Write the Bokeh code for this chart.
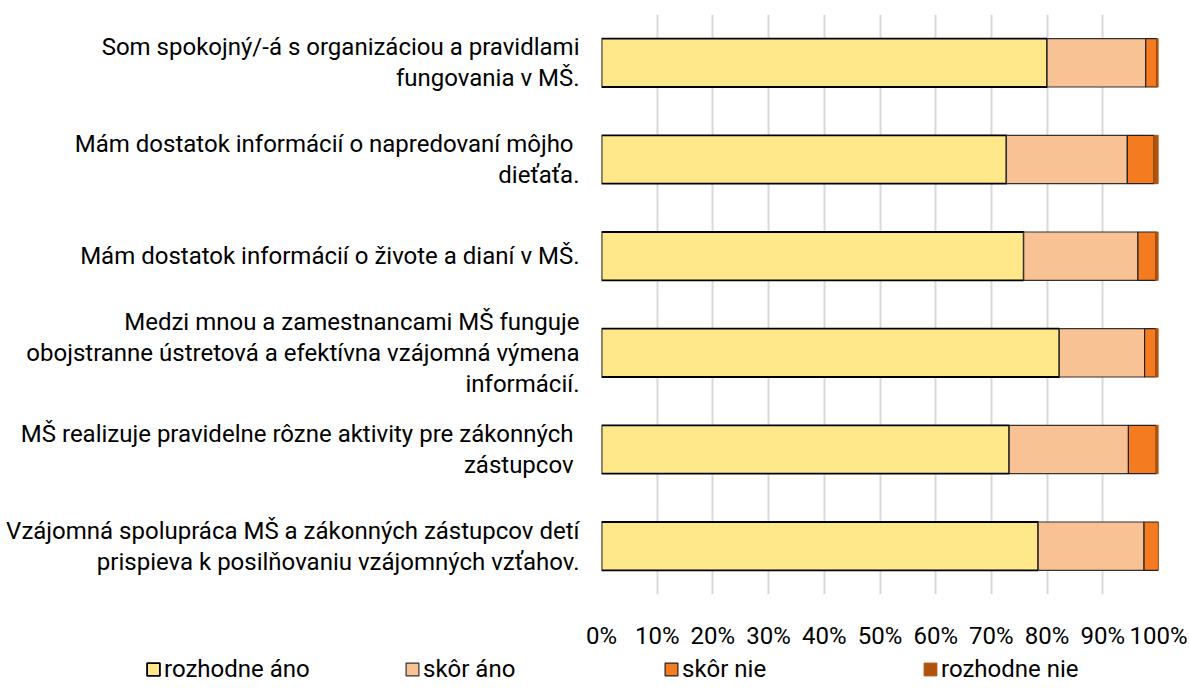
from bokeh.plotting import figure
from bokeh.models import Range1d, FactorRange, FixedTicker, ColumnDataSource, Legend
from bokeh.embed import file_html
from bokeh.resources import INLINE

categories = [
    "Som spokojný/-á s organizáciou a pravidlami\nfungovania v MŠ.",
    "Mám dostatok informácií o  napredovaní môjho\ndieťaťa.",
    "Mám dostatok informácií o živote a dianí v MŠ.",
    "Medzi mnou a zamestnancami MŠ funguje\nobojstranne ústretová a efektívna vzájomná výmena\ninformácií.",
    "MŠ realizuje pravidelne rôzne aktivity pre zákonných \nzástupcov ",
    "Vzájomná spolupráca MŠ a zákonných zástupcov detí\nprispieva k posilňovaniu vzájomných vzťahov.",
]
series_names = ["rozhodne áno", "skôr áno", "skôr nie", "rozhodne nie"]
rozhodne_ano = [80.0, 72.7, 75.8, 82.2, 73.2, 78.4]
skor_ano = [17.7, 21.7, 20.5, 15.3, 21.4, 19.0]
skor_nie = [2.0, 4.8, 3.2, 2.0, 5.0, 2.6]
rozhodne_nie = [0.3, 0.8, 0.5, 0.5, 0.4, 0.0]
ticks = [0, 10, 20, 30, 40, 50, 60, 70, 80, 90, 100]
tick_labels = ["0%", "10%", "20%", "30%", "40%", "50%", "60%", "70%", "80%", "90%", "100%"]

colors = ["#FFE88A", "#F9C295", "#F47B20", "#B0520C"]
line_colors = ["#000000", "#333333", "#222222", "#B0520C"]
line_widths = [1.8, 1.2, 1.2, 1.0]
FONT = "Roboto"
FS = "24px"

keys = ["s0", "s1", "s2", "s3"]
source = ColumnDataSource(dict(cat=categories, s0=rozhodne_ano, s1=skor_ano,
                               s2=skor_nie, s3=rozhodne_nie))

p = figure(width=1189, height=652, output_backend="svg", toolbar_location=None,
           y_range=FactorRange(factors=list(reversed(categories)), range_padding=0),
           x_range=Range1d(0, 100),
           min_border_left=601, min_border_right=31, min_border_top=14, min_border_bottom=52)

renderers = p.hbar_stack(keys, y="cat", height=0.5, source=source,
                         fill_color=colors, line_color=line_colors, line_width=line_widths)

p.outline_line_color = None
p.background_fill_color = "white"
p.border_fill_color = "white"

p.xaxis.ticker = FixedTicker(ticks=ticks)
p.xaxis.major_label_overrides = {t: l for t, l in zip(ticks, tick_labels)}
p.xaxis.axis_line_color = None
p.xaxis.major_tick_line_color = None
p.xaxis.minor_tick_line_color = None
p.xaxis.major_label_standoff = 21
p.xaxis.major_label_text_font = FONT
p.xaxis.major_label_text_font_size = FS
p.xaxis.major_label_text_color = "#000000"

p.yaxis.axis_line_color = None
p.yaxis.major_tick_line_color = None
p.yaxis.major_label_standoff = 16
p.yaxis.major_label_text_font = FONT
p.yaxis.major_label_text_font_size = FS
p.yaxis.major_label_text_color = "#000000"
p.yaxis.major_label_text_line_height = 1.1

p.ygrid.grid_line_color = None
p.xgrid.ticker = FixedTicker(ticks=ticks)
p.xgrid.grid_line_color = "#D9D9D9"
p.xgrid.grid_line_width = 2

# legend strip below the chart (same styles as the bar series)
lg = figure(width=1189, height=36, output_backend="svg", toolbar_location=None,
            x_range=Range1d(0, 1), y_range=Range1d(0, 1),
            min_border_left=0, min_border_right=0, min_border_top=0, min_border_bottom=0)
lg.axis.visible = False
lg.grid.visible = False
lg.outline_line_color = None
lg.border_fill_color = "white"
nan = float("nan")
empty = ColumnDataSource(dict(x=[nan], y=[nan]))
items = []
for name, fc, lc, lw in zip(series_names, colors, line_colors, line_widths):
    r = lg.rect(x="x", y="y", width=1, height=1, source=empty,
                fill_color=fc, line_color=lc, line_width=lw)
    items.append((name, [r]))
legend = Legend(items=items, orientation="horizontal", location=(145, 5),
                glyph_width=16, glyph_height=16, label_standoff=3,
                label_width=236, spacing=4, padding=0, margin=0,
                label_text_font=FONT, label_text_font_size=FS,
                label_text_color="#000000",
                background_fill_alpha=0, border_line_color=None)
lg.add_layout(legend, "center")

open("out.html", "w").write(file_html([p, lg], INLINE))
